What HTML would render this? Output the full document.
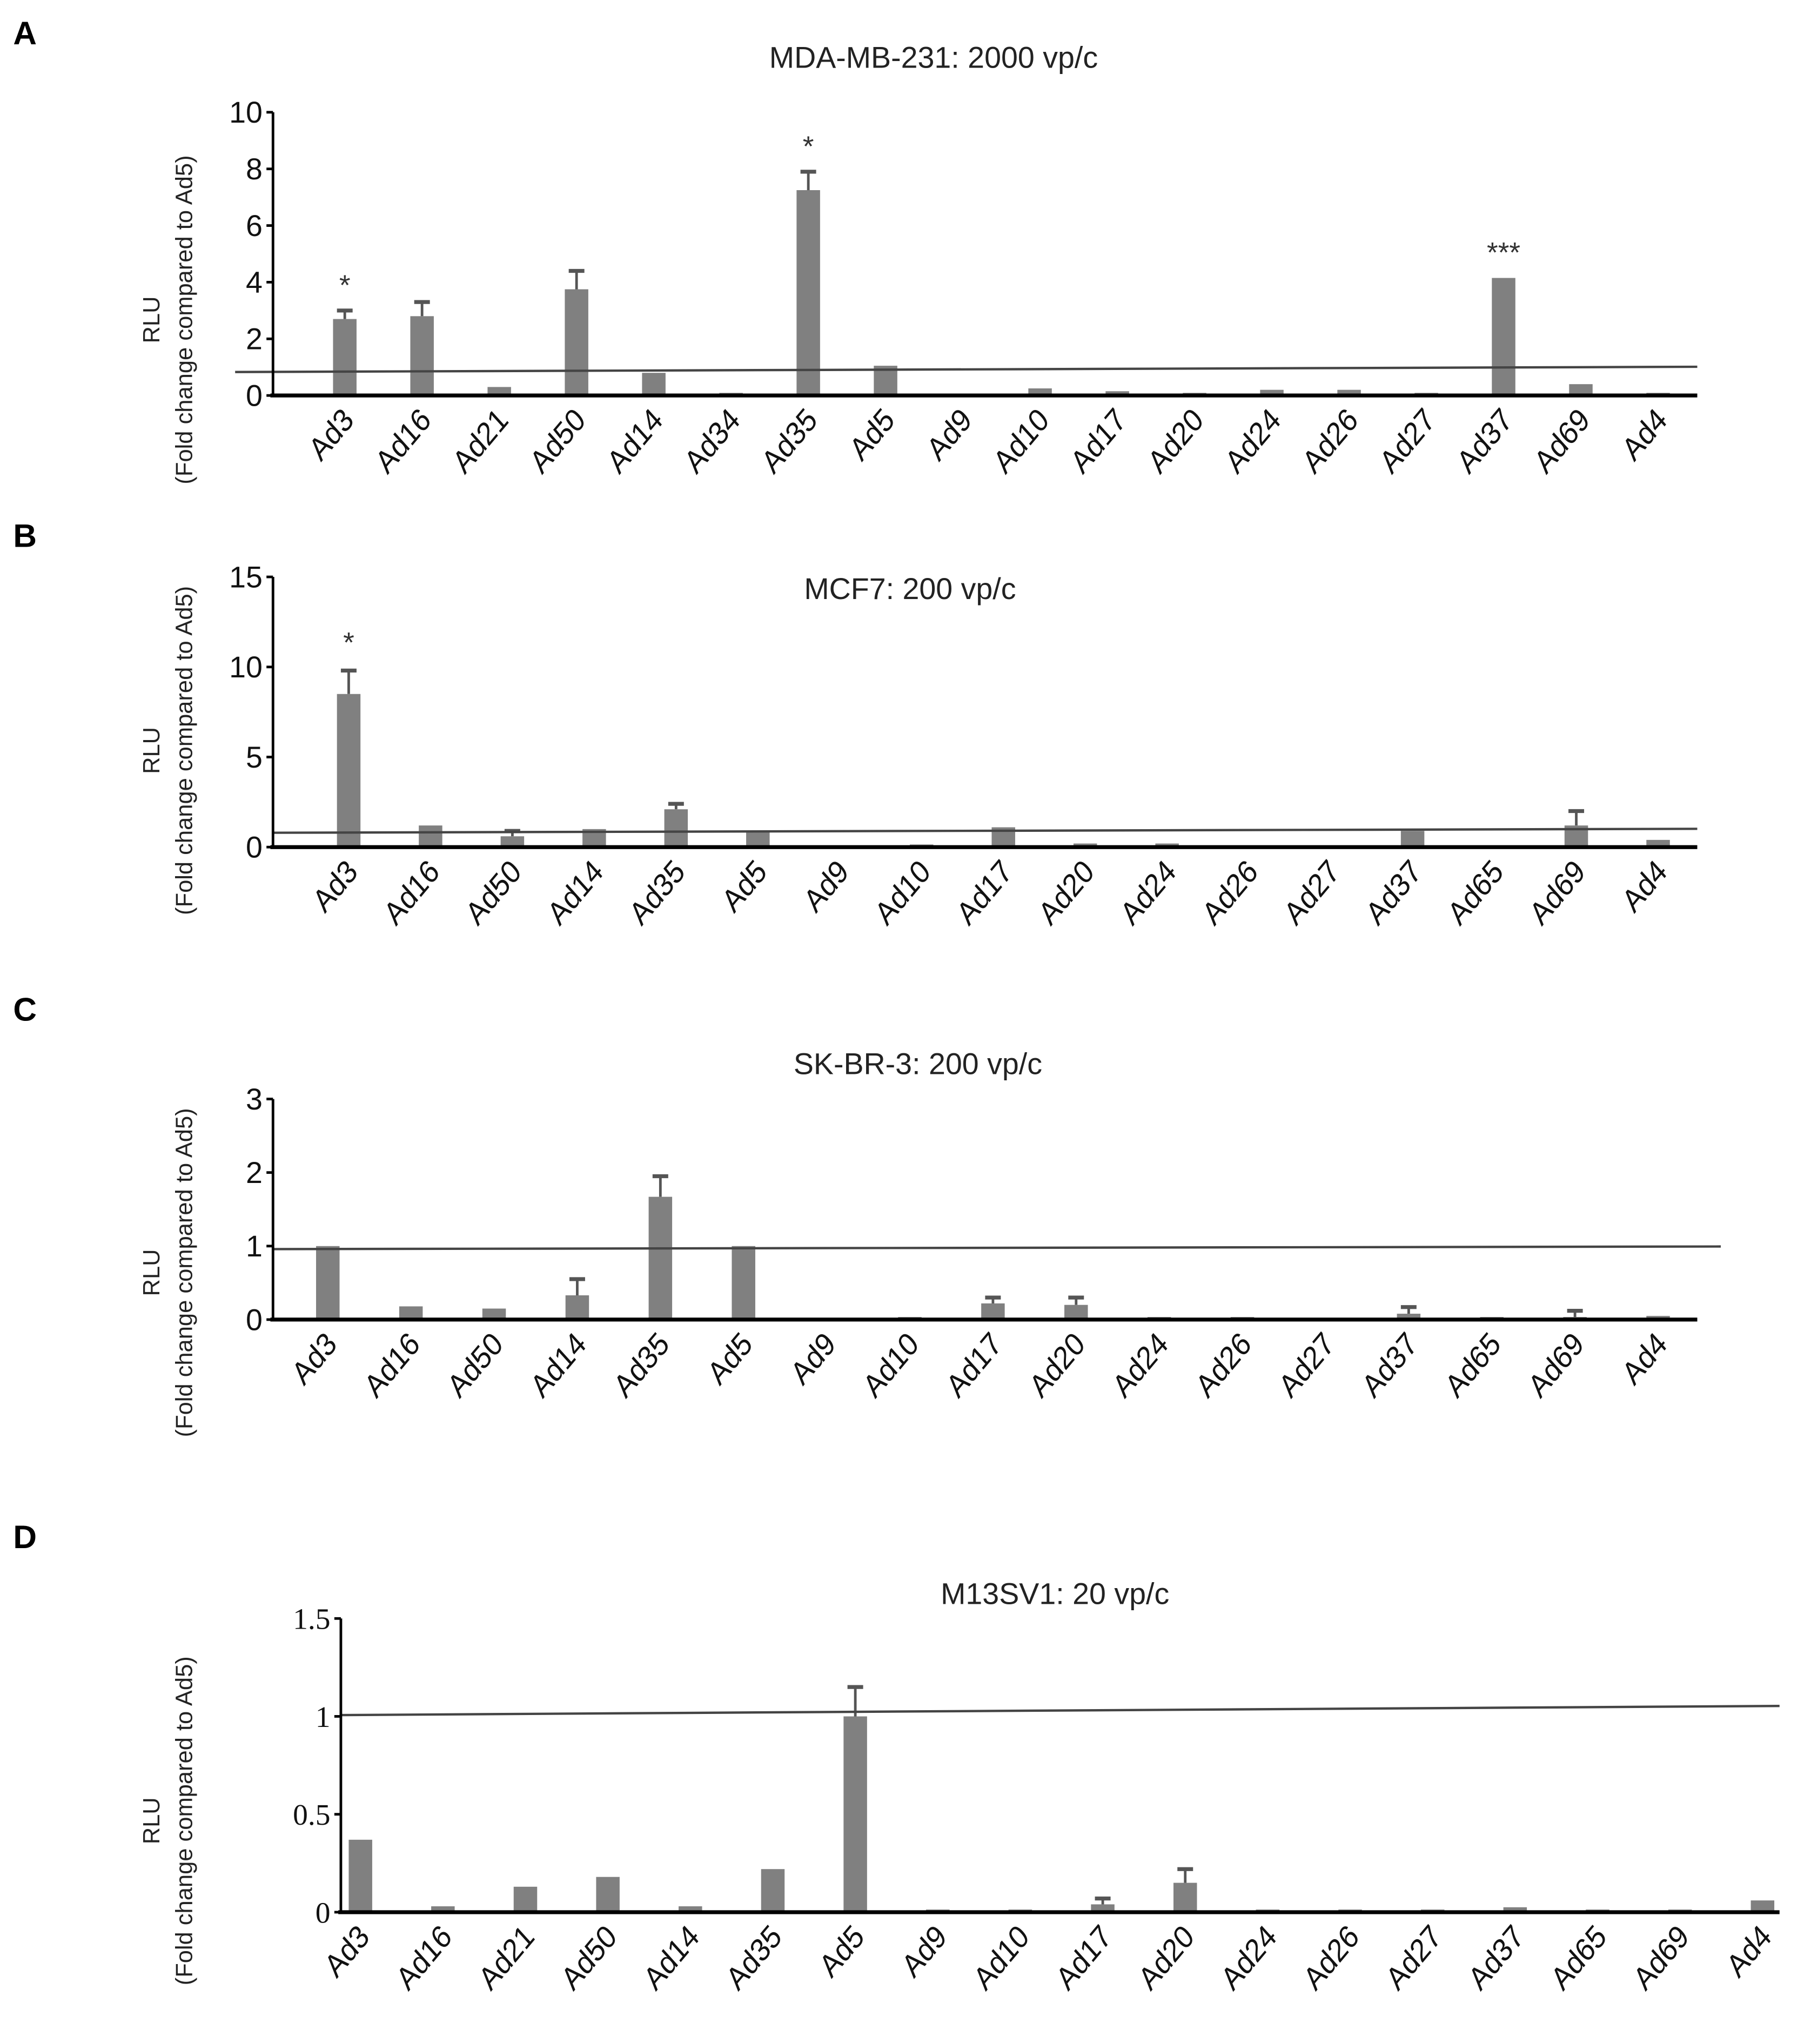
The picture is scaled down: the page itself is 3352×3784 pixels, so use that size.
<!DOCTYPE html>
<html><head><meta charset="utf-8"><style>
html,body{margin:0;padding:0;background:#fff;}
svg{display:block;font-family:"Liberation Sans",sans-serif;}
</style></head><body>
<svg id="fig" width="3352" height="3784" viewBox="0 0 1387 1566" xmlns="http://www.w3.org/2000/svg"></svg>
<script>
const catsA=["Ad3","Ad16","Ad21","Ad50","Ad14","Ad34","Ad35","Ad5","Ad9","Ad10","Ad17","Ad20","Ad24","Ad26","Ad27","Ad37","Ad69","Ad4"];
const valsA=[2.7,2.8,0.3,3.75,0.8,0.05,7.25,1.05,0,0.25,0.15,0.05,0.2,0.2,0.05,4.15,0.4,0.05];
const errA=[3.0,3.3,0.3,4.4,0.8,0.05,7.9,1.05,0,0.25,0.15,0.05,0.2,0.2,0.05,4.15,0.4,0.05];
const starsA=["*","","","","","","*","","","","","","","","","***","",""];
const ticksA=[0,2,4,6,8,10];
const catsB=["Ad3","Ad16","Ad50","Ad14","Ad35","Ad5","Ad9","Ad10","Ad17","Ad20","Ad24","Ad26","Ad27","Ad37","Ad65","Ad69","Ad4"];
const valsB=[8.5,1.2,0.6,1.0,2.1,0.9,0,0.1,1.1,0.2,0.2,0,0,0.9,0,1.2,0.4];
const errB=[9.8,1.2,0.9,1.0,2.4,0.9,0,0.1,1.1,0.2,0.2,0,0,0.9,0,2.0,0.4];
const starsB=["*","","","","","","","","","","","","","","","",""];
const ticksB=[0,5,10,15];
const catsC=["Ad3","Ad16","Ad50","Ad14","Ad35","Ad5","Ad9","Ad10","Ad17","Ad20","Ad24","Ad26","Ad27","Ad37","Ad65","Ad69","Ad4"];
const valsC=[1.0,0.18,0.15,0.33,1.67,1.0,0,0.02,0.22,0.2,0.02,0.02,0,0.08,0.02,0.03,0.05];
const errC=[1.0,0.18,0.15,0.55,1.95,1.0,0,0.02,0.3,0.3,0.02,0.02,0,0.17,0.02,0.12,0.05];
const ticksC=[0,1,2,3];
const catsD=["Ad3","Ad16","Ad21","Ad50","Ad14","Ad35","Ad5","Ad9","Ad10","Ad17","Ad20","Ad24","Ad26","Ad27","Ad37","Ad65","Ad69","Ad4"];
const valsD=[0.37,0.03,0.13,0.18,0.03,0.22,1.0,0.005,0.005,0.04,0.15,0.005,0.005,0.005,0.025,0.005,0.005,0.06];
const errD=[0.37,0.03,0.13,0.18,0.03,0.22,1.15,0.005,0.005,0.07,0.22,0.005,0.005,0.005,0.025,0.005,0.005,0.06];
const ticksD=[0,0.5,1,1.5];
const tickLabelsD=["0","0.5","1","1.5"];

const svg=document.getElementById('fig');
const NS="http://www.w3.org/2000/svg";
function mk(tag,attrs,parent){const e=document.createElementNS(NS,tag);for(const k in attrs)e.setAttribute(k,attrs[k]);(parent||svg).appendChild(e);return e;}

function panel(o){
  const g=mk('g',{});
  
  
  const y=v=>o.y0-(v/o.max)*(o.y0-o.yTop);
  const x=i=>o.xFirst+i*(o.xLast-o.xFirst)/(o.cats.length-1);
  const L=mk('text',{x:10,y:o.letterY,'font-size':25,'font-weight':'bold'},g);L.textContent=o.id;
  
  const t=mk('text',{x:o.titleX,y:o.titleY,'font-size':23,'text-anchor':'middle',fill:'#222'},g);t.textContent=o.title;
  
  const yl=mk('text',{transform:`translate(122,${o.labY}) rotate(-90)`,'font-size':18,'text-anchor':'middle',fill:'#222'},g);yl.textContent='RLU';
  
  const yl2=mk('text',{transform:`translate(147,${o.labY}) rotate(-90)`,'font-size':18,'text-anchor':'middle',fill:'#222'},g);yl2.textContent='(Fold change compared to Ad5)';
  
  o.vals.forEach((v,i)=>{
    const cx=x(i);
    if(o.err[i]>v){
      const el=mk('line',{x1:cx,x2:cx,y1:y(v),y2:y(o.err[i]),stroke:'#555','stroke-width':2},g);
      
      const cap=mk('line',{x1:cx-6,x2:cx+6,y1:y(o.err[i]),y2:y(o.err[i]),stroke:'#555','stroke-width':3},g);
      
    }
    const h=Math.max(y(0)-y(v),v>0?2:0);
    const b=mk('rect',{x:cx-9,y:y(0)-h,width:18,height:h,fill:'#808080'},g);
    
    if(o.stars&&o.stars[i]){
      const s=mk('text',{x:cx,y:y(o.err[i])-o.starGap,'font-size':22,'text-anchor':'middle',fill:'#333'},g);s.textContent=o.stars[i];
      
    }
    const lb=mk('text',{transform:`translate(${cx+8},${o.y0+20}) rotate(-50) skewX(-8)`,'font-size':23,'text-anchor':'end',fill:'#111'},g);lb.textContent=o.cats[i];
    
  });
  const rl=mk('line',{x1:o.refX1,y1:o.refY1,x2:o.refX2,y2:o.refY2,stroke:'#444','stroke-width':1.8},g);
  
  const ya=mk('line',{x1:o.ax,x2:o.ax,y1:o.yTop,y2:o.y0,stroke:'#000','stroke-width':2},g);
  
  const xa=mk('line',{x1:o.ax-2,x2:o.axEnd,y1:o.y0,y2:o.y0,stroke:'#000','stroke-width':3},g);
  
  o.ticks.forEach((tv,i)=>{
    const tk=mk('line',{x1:o.ax-5,x2:o.ax,y1:y(tv),y2:y(tv),stroke:'#000','stroke-width':2},g);
    
    const tl=mk('text',{x:o.ax-8,y:y(tv)+8,'font-size':23,'text-anchor':'end',fill:'#111','font-family':o.serif?'"Liberation Serif",serif':'"Liberation Sans",sans-serif'},g);
    tl.textContent=o.tickLabels?o.tickLabels[i]:String(tv);
    
  });
}
panel({id:'A',cats:catsA,vals:valsA,err:errA,stars:starsA,ticks:ticksA,max:10,ax:209,axEnd:1300,yTop:86,y0:303,xFirst:264,xLast:1270,letterY:34,title:'MDA-MB-231: 2000 vp/c',titleX:715,titleY:52,labY:245,refX1:180,refY1:285,refX2:1300,refY2:281,starGap:12});
panel({id:'B',cats:catsB,vals:valsB,err:errB,stars:starsB,ticks:ticksB,max:15,ax:209,axEnd:1300,yTop:442,y0:649,xFirst:267,xLast:1270,letterY:419,title:'MCF7: 200 vp/c',titleX:697,titleY:459,labY:575,refX1:209,refY1:638,refX2:1300,refY2:635,starGap:14});
panel({id:'C',cats:catsC,vals:valsC,err:errC,ticks:ticksC,max:3,ax:209,axEnd:1300,yTop:842,y0:1011,xFirst:251,xLast:1270,letterY:782,title:'SK-BR-3: 200 vp/c',titleX:703,titleY:823,labY:975,refX1:209,refY1:957,refX2:1318,refY2:955});
panel({id:'D',cats:catsD,vals:valsD,err:errD,ticks:ticksD,tickLabels:tickLabelsD,serif:true,max:1.5,ax:261,axEnd:1363,yTop:1240,y0:1465,xFirst:276,xLast:1350,letterY:1186,title:'M13SV1: 20 vp/c',titleX:808,titleY:1229,labY:1395,refX1:261,refY1:1314,refX2:1363,refY2:1307});
</script>
</body></html>
